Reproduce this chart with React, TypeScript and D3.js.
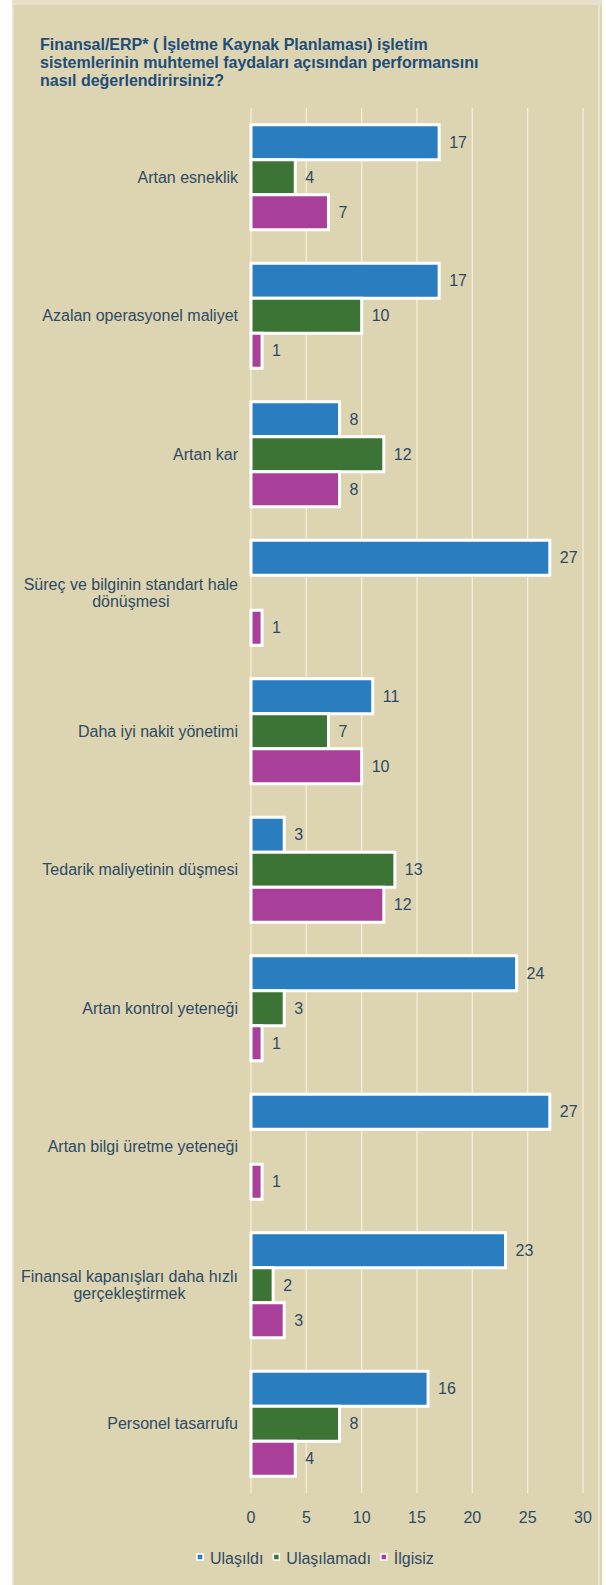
import React from "react";
import * as d3 from "d3";

const title = [
  "Finansal/ERP* ( İşletme Kaynak Planlaması) işletim",
  "sistemlerinin muhtemel faydaları açısından performansını",
  "nasıl değerlendirirsiniz?",
];
const categories = [
  "Artan esneklik",
  "Azalan operasyonel maliyet",
  "Artan kar",
  "Süreç ve bilginin standart hale\ndönüşmesi",
  "Daha iyi nakit yönetimi",
  "Tedarik maliyetinin düşmesi",
  "Artan kontrol yeteneği",
  "Artan bilgi üretme yeteneği",
  "Finansal kapanışları daha hızlı\ngerçekleştirmek",
  "Personel tasarrufu",
];
const seriesNames = ["Ulaşıldı", "Ulaşılamadı", "İlgisiz"];
const ulasildi = [17, 17, 8, 27, 11, 3, 24, 27, 23, 16];
const ulasilamadi = [4, 10, 12, 0, 7, 13, 3, 0, 2, 8];
const ilgisiz = [7, 1, 8, 1, 10, 12, 1, 1, 3, 4];
const xTicks = [0, 5, 10, 15, 20, 25, 30];

const seriesValues = [ulasildi, ulasilamadi, ilgisiz];
const colors = ["#2A7DBE", "#3B7434", "#A8409A"];

const W = 606;
const H = 1585;
const FONT = "'Liberation Sans', Arial, sans-serif";
const textColor = "#2D4A64";

let ctx: CanvasRenderingContext2D | null = null;
function measure(t: string, font: string) {
  if (!ctx) ctx = document.createElement("canvas").getContext("2d");
  if (!ctx) return t.length * 8;
  ctx.font = font;
  return ctx.measureText(t).width;
}

export default function App() {
  const x = d3.scaleLinear().domain([0, 30]).range([251, 583]);
  const y = d3.scaleBand<string>().domain(categories).range([108, 1493]).padding(0);
  const bw = y.bandwidth();
  const barPitch = 35;
  const inner = d3
    .scaleBand<string>()
    .domain(seriesNames)
    .range([(bw - 3 * barPitch) / 2, (bw + 3 * barPitch) / 2]);

  const labelRight = 238;
  const labelFont = `16px ${FONT}`;

  // legend layout
  let lx = 197;
  const legendItems = seriesNames.map((name, i) => {
    const sq = lx;
    const tx = sq + 13;
    const w = measure(name, labelFont);
    lx = tx + w + 10;
    return { name, sq, tx, color: colors[i] };
  });

  return (
    <svg
      width={W}
      height={H}
      style={{ position: "absolute", left: 0, top: 0, display: "block" }}
      fontFamily={FONT}
    >
      <rect x={0} y={0} width={W} height={H} fill="#ffffff" />
      <rect x={12} y={0} width={590} height={H} fill="#DDD4B1" />
      <rect x={12} y={0} width={590} height={5} fill="#E7E1CB" />
      <rect x={12} y={0} width={2} height={H} fill="#EAE4CF" />
      <rect x={598} y={0} width={2} height={H} fill="#E9E3CD" />

      {title.map((t, i) => (
        <text
          key={i}
          x={40}
          y={50 + i * 18}
          fontSize={16}
          fontWeight="bold"
          fill="#1E4D78"
        >
          {t}
        </text>
      ))}

      {xTicks.map((t) => (
        <g key={t}>
          <line
            x1={x(t)}
            x2={x(t)}
            y1={108}
            y2={1493}
            stroke="#F4EFDA"
            strokeWidth={1.3}
          />
          <text
            x={x(t)}
            y={1517}
            textAnchor="middle"
            dominantBaseline="central"
            fontSize={16}
            fill={textColor}
          >
            {t}
          </text>
        </g>
      ))}

      {categories.map((c, ci) => {
        const y0 = y(c)!;
        const lines = c.split("\n");
        const maxW = Math.max(...lines.map((l) => measure(l, labelFont)));
        const cx = labelRight - maxW / 2;
        const cy = y0 + bw / 2;
        const lh = 17;
        return (
          <g key={c}>
            {lines.map((l, li) => (
              <text
                key={li}
                x={cx}
                y={cy + (li - (lines.length - 1) / 2) * lh}
                textAnchor="middle"
                dominantBaseline="central"
                fontSize={16}
                fill={textColor}
              >
                {l}
              </text>
            ))}
            {seriesNames.map((s, si) => {
              const v = seriesValues[si][ci];
              if (!v) return null;
              const by = y0 + inner(s)!;
              return (
                <g key={s}>
                  <rect
                    x={x(0)}
                    y={by}
                    width={x(v) - x(0)}
                    height={barPitch}
                    fill={colors[si]}
                    stroke="#ffffff"
                    strokeWidth={3}
                  />
                  <text
                    x={x(v) + 10}
                    y={by + barPitch / 2}
                    dominantBaseline="central"
                    fontSize={16}
                    fill={textColor}
                  >
                    {v}
                  </text>
                </g>
              );
            })}
          </g>
        );
      })}

      {legendItems.map((it) => (
        <g key={it.name}>
          <rect
            x={it.sq}
            y={1554}
            width={6}
            height={6}
            fill={it.color}
            stroke="#ffffff"
            strokeWidth={1.5}
          />
          <text
            x={it.tx}
            y={1558}
            dominantBaseline="central"
            fontSize={16}
            fill={textColor}
          >
            {it.name}
          </text>
        </g>
      ))}
    </svg>
  );
}
